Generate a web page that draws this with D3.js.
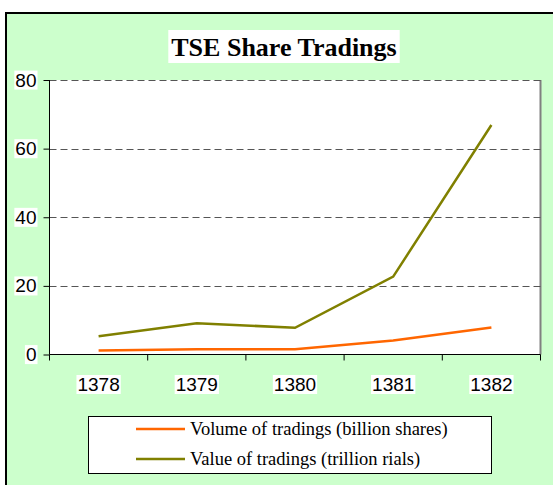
<!DOCTYPE html>
<html>
<head>
<meta charset="utf-8">
<script src="https://cdn.jsdelivr.net/npm/d3@7"></script>
<style>
  body { margin: 0; background: #fff; }
</style>
</head>
<body>
<div id="graph"></div>
<script>
var years = ['1378', '1379', '1380', '1381', '1382'];
var volume = [1.2, 1.5, 1.5, 4.1, 7.9];
var value = [5.3, 9.1, 7.8, 22.7, 66.9];
var yTicks = [0, 20, 40, 60, 80];
var seriesNames = ['Volume of tradings (billion shares)', 'Value of tradings (trillion rials)'];
var seriesColors = ['#ff6600', '#808000'];

var width = 553;
var height = 485;

var svg = d3.select('#graph')
    .append('svg')
    .attr('width', width)
    .attr('height', height);

// chart area background
svg.append('rect')
    .attr('x', 6).attr('y', 13)
    .attr('width', width).attr('height', height)
    .attr('fill', '#ccffcc')
    .attr('stroke', '#000')
    .attr('stroke-width', 2);

var plot = { left: 49.5, top: 80, right: 540.5, bottom: 354.5 };

var x = d3.scaleBand()
    .domain(years)
    .range([plot.left, plot.right]);

var y = d3.scaleLinear()
    .domain([0, 80])
    .range([plot.bottom, plot.top]);

// plot area
svg.append('rect')
    .attr('x', plot.left).attr('y', plot.top)
    .attr('width', plot.right - plot.left)
    .attr('height', plot.bottom - plot.top)
    .attr('fill', '#fff');

svg.append('line')
    .attr('x1', plot.right).attr('x2', plot.right)
    .attr('y1', plot.top).attr('y2', plot.bottom)
    .attr('stroke', '#808080')
    .attr('stroke-width', 2);

// gridlines
svg.selectAll('.grid')
    .data(yTicks.filter(function(d) { return d > 0; }))
    .enter()
    .append('line')
    .attr('class', 'grid')
    .attr('x1', plot.left).attr('x2', plot.right)
    .attr('y1', function(d) { return Math.round(y(d)) + 0.5; })
    .attr('y2', function(d) { return Math.round(y(d)) + 0.5; })
    .attr('stroke', '#555')
    .attr('stroke-dasharray', '7,4');

// y axis
var yAxis = svg.append('g')
    .attr('transform', 'translate(' + plot.left + ',0)')
    .call(d3.axisLeft(y).tickValues(yTicks).tickSize(6).tickPadding(7));
yAxis.select('.domain').attr('stroke', '#000').attr('d', 'M0,' + plot.top + 'V' + plot.bottom);
yAxis.selectAll('text')
    .attr('font-family', 'Liberation Sans, Arial, sans-serif')
    .attr('font-size', 19)
    .attr('fill', '#000');

// x axis
var xAxis = svg.append('g')
    .attr('transform', 'translate(0,' + plot.bottom + ')')
    .call(d3.axisBottom(x).tickSize(0).tickPadding(23));
xAxis.select('.domain').attr('stroke', '#000').attr('d', 'M' + plot.left + ',0H' + plot.right);
xAxis.selectAll('text')
    .attr('font-family', 'Liberation Sans, Arial, sans-serif')
    .attr('font-size', 19)
    .attr('fill', '#000');

var bounds = years.map(function(d) { return x(d); }).concat([plot.right]);
svg.selectAll('.xtick')
    .data(bounds)
    .enter()
    .append('line')
    .attr('class', 'xtick')
    .attr('x1', function(d) { return d; })
    .attr('x2', function(d) { return d; })
    .attr('y1', plot.bottom)
    .attr('y2', plot.bottom + 6)
    .attr('stroke', '#000');

// white backing behind tick labels
[yAxis, xAxis].forEach(function(ax) {
    ax.selectAll('.tick').each(function() {
        var t = d3.select(this).select('text');
        var b = t.node().getBBox();
        d3.select(this).insert('rect', 'text')
            .attr('x', b.x - 1).attr('y', b.y + 1)
            .attr('width', b.width + 2).attr('height', b.height - 2)
            .attr('fill', '#fff');
    });
});

// lines
var line = d3.line()
    .x(function(d, i) { return x(years[i]) + x.bandwidth() / 2; })
    .y(function(d) { return y(d); });

[volume, value].forEach(function(s, i) {
    svg.append('path')
        .datum(s)
        .attr('fill', 'none')
        .attr('stroke', seriesColors[i])
        .attr('stroke-width', 2.5)
        .attr('d', line);
});

// title
var titleG = svg.append('g');
var titleBg = titleG.append('rect').attr('fill', '#fff');
var title = titleG.append('text')
    .attr('x', 284)
    .attr('y', 56)
    .attr('text-anchor', 'middle')
    .attr('font-family', 'Liberation Serif, Times New Roman, serif')
    .attr('font-weight', 'bold')
    .attr('font-size', 26)
    .text('TSE Share Tradings');
var tb = title.node().getBBox();
titleBg
    .attr('x', tb.x - 3).attr('y', 30)
    .attr('width', tb.width + 6).attr('height', 33);

// legend
var legend = svg.append('g');
legend.append('rect')
    .attr('x', 88.5).attr('y', 416.5)
    .attr('width', 403).attr('height', 57)
    .attr('fill', '#fff')
    .attr('stroke', '#000');

var items = legend.selectAll('.item')
    .data(seriesNames)
    .enter()
    .append('g')
    .attr('transform', function(d, i) { return 'translate(0,' + (429 + i * 30) + ')'; });

items.append('line')
    .attr('x1', 136).attr('x2', 185)
    .attr('stroke', function(d, i) { return seriesColors[i]; })
    .attr('stroke-width', 2.5);

items.append('text')
    .attr('x', 190)
    .attr('y', 6)
    .attr('font-family', 'Liberation Serif, Times New Roman, serif')
    .attr('font-size', 18.5)
    .text(function(d) { return d; });
</script>
</body>
</html>
